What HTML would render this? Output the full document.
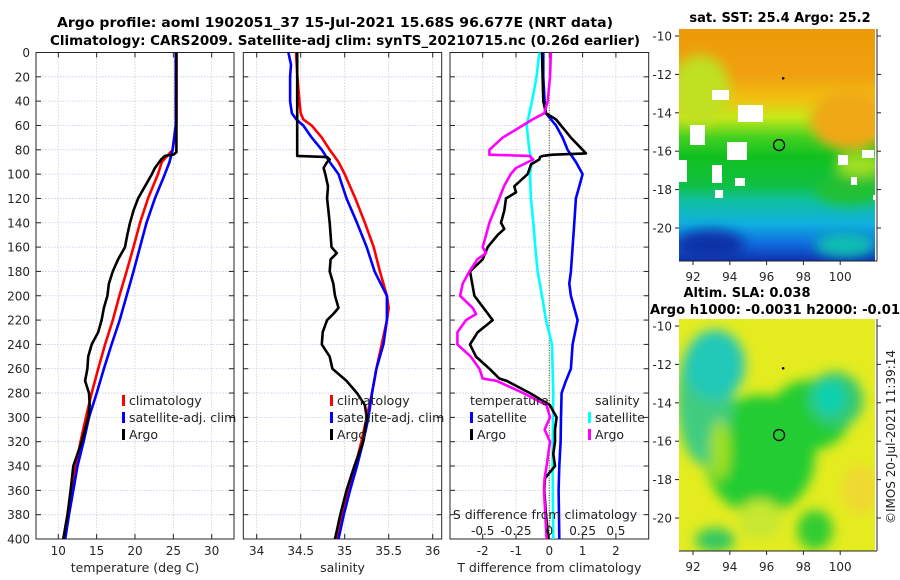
<!DOCTYPE html>
<html><head><meta charset="utf-8"><style>
body{margin:0;background:#fff;}
svg{display:block;font-family:"DejaVu Sans","Liberation Sans",sans-serif;}
</style></head><body>
<svg id="chart" width="900" height="580" viewBox="0 0 900 580" xmlns="http://www.w3.org/2000/svg">
<defs>
<filter id="blur" x="-20%" y="-20%" width="140%" height="140%"><feGaussianBlur stdDeviation="6"/></filter>
<clipPath id="mapclip1"><rect x="679" y="29" width="196" height="232"/></clipPath>
<clipPath id="mapclip2"><rect x="679" y="319" width="196" height="232"/></clipPath>
<linearGradient id="sstgrad" x1="0" y1="0" x2="0" y2="1">
<stop offset="0" stop-color="#ee9a08"/><stop offset="0.2" stop-color="#f0a010"/>
<stop offset="0.3" stop-color="#f2c010"/><stop offset="0.38" stop-color="#c8e818"/>
<stop offset="0.47" stop-color="#40d020"/><stop offset="0.55" stop-color="#10c020"/>
<stop offset="0.67" stop-color="#10c040"/><stop offset="0.74" stop-color="#10c0a0"/>
<stop offset="0.84" stop-color="#10b0e0"/><stop offset="0.92" stop-color="#1070e0"/>
<stop offset="1" stop-color="#1030b0"/></linearGradient>
</defs>
<g font-weight="bold" font-size="13" fill="#000">
<text x="57" y="27" textLength="556" lengthAdjust="spacingAndGlyphs">Argo profile: aoml 1902051_37 15-Jul-2021 15.68S 96.677E (NRT data)</text>
<text x="50" y="45" textLength="590" lengthAdjust="spacingAndGlyphs">Climatology: CARS2009. Satellite-adj clim: synTS_20210715.nc (0.26d earlier)</text>
</g>
<g id="panels"></g>
<g id="maps"></g>
</svg>
<script>
// ---------- data ----------
const tClimDepth=[0,60,80,90,100,120,140,160,180,200,220,240,260,280,300,320,340,360,380,400];
const tClimVal=[25.4,25.4,24.9,23.5,23.0,21.7,20.65,19.8,18.9,17.96,17.1,16.1,15.2,14.35,13.6,12.9,12.3,11.7,11.2,10.65];
const tSatDepth=[0,60,80,90,100,120,140,160,180,200,220,240,260,280,300,320,340,360,380,400];
const tSatVal=[25.3,25.3,24.9,24.5,23.9,22.6,21.5,20.65,19.8,18.9,18.0,16.95,15.95,15.0,14.0,13.3,12.5,11.95,11.4,10.9];
const tArgoDepth=[0,82,84,85,88,95,100,110,120,130,140,150,160,170,180,190,200,210,220,230,240,250,260,270,280,290,300,320,340,360,380,400];
const tArgoVal=[25.4,25.4,25.0,23.9,23.4,22.6,22.2,21.3,20.4,19.8,19.35,19.0,18.7,17.8,17.1,16.6,16.4,15.95,15.65,15.2,14.35,13.9,13.8,13.5,14.0,14.1,13.9,13.05,11.95,11.6,11.2,10.65];

const sClimDepth=[0,20,40,50,55,60,70,80,90,100,120,140,160,180,200,210,220,240,260,280,300,320,340,360,380,400];
const sClimVal=[34.447,34.462,34.485,34.5,34.53,34.625,34.74,34.83,34.93,35.0,35.12,35.23,35.33,35.40,35.48,35.5,35.48,35.42,35.36,35.31,35.25,35.19,35.12,35.04,34.97,34.90];
const sSatDepth=[0,10,20,40,50,55,60,70,80,90,100,120,140,160,180,200,220,240,260,280,300,320,340,360,380,400];
const sSatVal=[34.36,34.39,34.38,34.38,34.4,34.45,34.53,34.625,34.74,34.83,34.93,35.02,35.14,35.25,35.34,35.48,35.48,35.44,35.36,35.31,35.27,35.21,35.14,35.06,34.99,34.93];
const sArgoDepth=[0,85,86,88,90,95,100,110,120,140,160,165,170,180,190,200,210,215,220,230,240,250,260,270,280,290,300,320,340,360,380,400];
const sArgoVal=[34.46,34.46,34.8,34.83,34.8,34.76,34.78,34.81,34.8,34.83,34.85,34.91,34.84,34.83,34.87,34.89,34.93,34.87,34.8,34.75,34.74,34.83,34.86,35.02,35.14,35.23,35.25,35.21,35.11,35.02,34.95,34.89];

const dtSatDepth=[0,20,40,50,55,60,70,80,90,100,110,120,140,160,180,190,200,220,240,260,270,280,300,320,340,360,380,400];
const dtSatVal=[-0.18,-0.18,-0.14,-0.1,0.05,0.2,0.4,0.55,0.8,1.0,0.9,0.8,0.75,0.7,0.65,0.6,0.65,0.85,0.7,0.65,0.5,0.37,0.35,0.34,0.3,0.28,0.29,0.3];
const dtArgoDepth=[0,20,40,50,55,60,70,80,83,84,85,86,88,92,100,110,115,120,130,140,145,150,160,170,180,200,220,230,240,250,260,268,270,280,290,300,310,320,330,340,350,360,380,400];
const dtArgoVal=[-0.22,-0.2,-0.18,-0.1,0.2,0.35,0.65,1.0,1.1,0.1,-0.2,-0.28,-0.3,-0.55,-0.65,-1.05,-1.0,-1.3,-1.35,-1.45,-1.35,-1.55,-1.85,-2.0,-2.38,-2.25,-1.7,-2.15,-2.38,-2.2,-1.8,-1.5,-1.28,-0.58,0.02,0.22,0.17,0.17,0.12,0.17,-0.13,-0.15,-0.1,-0.03];
const dsSatDepth=[0,20,40,60,80,90,100,120,140,160,180,200,220,240,260,280,300,340,400];
const dsSatVal=[-0.075,-0.095,-0.13,-0.17,-0.15,-0.13,-0.145,-0.138,-0.12,-0.105,-0.088,-0.055,-0.025,0.02,0.025,0.03,0.028,0.025,0.03];
const dsArgoDepth=[0,20,40,50,55,60,70,80,84,85,88,90,95,100,110,120,140,160,165,170,180,190,200,210,215,220,230,240,250,260,268,270,280,290,300,310,320,340,350,360,380,400];
const dsArgoVal=[0.012,0.005,-0.012,-0.038,-0.125,-0.2,-0.35,-0.45,-0.45,-0.15,-0.12,-0.16,-0.25,-0.29,-0.34,-0.375,-0.45,-0.5,-0.475,-0.54,-0.6,-0.65,-0.67,-0.575,-0.55,-0.625,-0.69,-0.69,-0.59,-0.525,-0.5,-0.395,-0.195,-0.02,0.005,-0.035,0.005,-0.02,-0.035,-0.04,-0.03,-0.02];

const depthTicks=[0,20,40,60,80,100,120,140,160,180,200,220,240,260,280,300,320,340,360,380,400];
const tTicks=[10,15,20,25,30];
const sTicks=[34,34.5,35,35.5,36];
const dtTicks=[-2,-1,0,1,2];
const dsTicks=[-0.5,-0.25,0,0.25,0.5];
const dsTickLabels=["-0.5","-0.25","0","0.25","0.5"];

const lonTicks=[92,94,96,98,100];
const latTicks=[-10,-12,-14,-16,-18,-20];
const floatLon=96.677, floatLat=-15.68;

// ---------- scales ----------
const NS="http://www.w3.org/2000/svg";
const yTop=52.5, yBot=539;
const yD=d=>yTop+d*(yBot-yTop)/400;
const xT=v=>58.3+(v-10)*7.67;
const xS=v=>256.7+(v-34)*88;
const xDT=v=>549.3+v*33.3;
const xDS=v=>549.3+v*4*33.3;
const mapX=lon=>693+(lon-92)*18.4;
const mapY1=lat=>36+(-10-lat)*19.2;
const mapY2=lat=>326+(-10-lat)*19.2;

function mk(tag,attrs,parent,text){const e=document.createElementNS(NS,tag);for(const k in attrs)e.setAttribute(k,attrs[k]);if(text!==undefined)e.textContent=text;parent.appendChild(e);return e;}

const panels=document.getElementById('panels');
function panel(name,x0,x1,xs,ticks,labels,xlabel){
  const g=mk('g',{},panels);
  
  
  ticks.forEach(t=>{const l=mk('line',{x1:xs(t),x2:xs(t),y1:yTop,y2:yBot,stroke:'#e6c4bc','stroke-width':0.8,'stroke-dasharray':'1.5,1.5'},g);
    });
  depthTicks.forEach(d=>{const l=mk('line',{x1:x0,x2:x1,y1:yD(d),y2:yD(d),stroke:'#c4cae8','stroke-width':0.8,'stroke-dasharray':'1.5,1.5'},g);
    
    mk('line',{x1:x0,x2:x0+5,y1:yD(d),y2:yD(d),stroke:'#222'},g);
    mk('line',{x1:x1-5,x2:x1,y1:yD(d),y2:yD(d),stroke:'#222'},g);});
  ticks.forEach((t,i)=>{mk('line',{x1:xs(t),x2:xs(t),y1:yBot-5,y2:yBot,stroke:'#222'},g);mk('line',{x1:xs(t),x2:xs(t),y1:yTop,y2:yTop+5,stroke:'#222'},g);
    const tl=mk('text',{x:xs(t),y:555,'font-size':12,'text-anchor':'middle',fill:'#262626'},g,labels[i]);
    });
  const xl=mk('text',{x:(x0+x1)/2,y:572,'font-size':12.5,'text-anchor':'middle',fill:'#262626'},g,xlabel);
  
  const fr=mk('rect',{x:x0,y:yTop,width:x1-x0,height:yBot-yTop,fill:'none',stroke:'#262626','stroke-width':1},g);
  
  return g;
}
function line(g,name,depths,vals,xs,color,w){
  const p=mk('polyline',{points:depths.map((d,i)=>xs(vals[i]).toFixed(1)+','+yD(d).toFixed(1)).join(' '),fill:'none',stroke:color,'stroke-width':w||2.6,'stroke-linejoin':'round'},g);
  
}
function legend(g,x,y,items){items.forEach((it,i)=>{const e=mk('g',{},g);
  
  if(it.c) mk('rect',{x:x,y:y+i*17-10,width:3,height:11,fill:it.c},e);
  mk('text',{x:x+(it.c?7:0),y:y+i*17,'font-size':12.5,fill:'#222'},e,it.t);});}

// panel 1
const g1=panel('temperature-panel',36,234,xT,tTicks,tTicks.map(String),'temperature (deg C)');
depthTicks.forEach(d=>{const t=mk('text',{x:30,y:yD(d)+4.5,'font-size':12,'text-anchor':'end',fill:'#262626'},g1,String(d));
  });
line(g1,'temp-climatology-line',tClimDepth,tClimVal,xT,'#ff0000');
line(g1,'temp-satellite-line',tSatDepth,tSatVal,xT,'#0000ff');
line(g1,'temp-argo-line',tArgoDepth,tArgoVal,xT,'#000');
legend(g1,122,405,[{t:'climatology',c:'#ff0000'},{t:'satellite-adj. clim',c:'#0000ff'},{t:'Argo',c:'#000'}]);

// panel 2
const g2=panel('salinity-panel',243.3,441.7,xS,sTicks,['34','34.5','35','35.5','36'],'salinity');
line(g2,'sal-climatology-line',sClimDepth,sClimVal,xS,'#ff0000');
line(g2,'sal-satellite-line',sSatDepth,sSatVal,xS,'#0000ff');
line(g2,'sal-argo-line',sArgoDepth,sArgoVal,xS,'#000');
legend(g2,330,405,[{t:'climatology',c:'#ff0000'},{t:'satellite-adj. clim',c:'#0000ff'},{t:'Argo',c:'#000'}]);

// panel 3
const g3=panel('difference-panel',450,648.7,xDT,dtTicks,dtTicks.map(String),'T difference from climatology');
const zl=mk('line',{x1:xDT(0),x2:xDT(0),y1:yTop,y2:yBot,stroke:'#556b2f','stroke-width':1.2,'stroke-dasharray':'1,1.5'},g3);

line(g3,'sal-diff-satellite-line',dsSatDepth,dsSatVal,xDS,'#00ffff');
line(g3,'temp-diff-satellite-line',dtSatDepth,dtSatVal,xDT,'#0000ff');
line(g3,'temp-diff-argo-line',dtArgoDepth,dtArgoVal,xDT,'#000');
line(g3,'sal-diff-argo-line',dsArgoDepth,dsArgoVal,xDS,'#ff00ff');
legend(g3,470,405,[{t:'temperature'},{t:'satellite',c:'#0000ff'},{t:'Argo',c:'#000'}]);
mk('text',{x:595,y:405,'font-size':12.5,fill:'#222'},g3,'salinity');
legend(g3,588,422,[{t:'satellite',c:'#00ffff'},{t:'Argo',c:'#ff00ff'}]);
const st=mk('text',{x:545,y:519,'font-size':12.5,'text-anchor':'middle',fill:'#222'},g3,'S difference from climatology');

dsTicks.forEach((t,i)=>{const tl=mk('text',{x:xDS(t),y:535,'font-size':12,'text-anchor':'middle',fill:'#222'},g3,dsTickLabels[i]);
  });

// ---------- maps ----------
const maps=document.getElementById('maps');
function mapAxes(g,y0,ys){
  latTicks.forEach(l=>{mk('line',{x1:675,x2:679,y1:ys(l),y2:ys(l),stroke:'#222'},g);mk('line',{x1:877,x2:881,y1:ys(l),y2:ys(l),stroke:'#222'},g);
    const t=mk('text',{x:672,y:ys(l)+4.5,'font-size':12,'text-anchor':'end',fill:'#262626'},g,String(l));
    });
  lonTicks.forEach(l=>{mk('line',{x1:mapX(l),x2:mapX(l),y1:y0+232,y2:y0+236,stroke:'#222'},g);
    const t=mk('text',{x:mapX(l),y:y0+252,'font-size':12,'text-anchor':'middle',fill:'#262626'},g,String(l));
    });
  mk('line',{x1:679,x2:877,y1:y0+232,y2:y0+232,stroke:'#222'},g);
  mk('line',{x1:877,x2:877,y1:y0,y2:y0+232,stroke:'#222'},g);
  mk('circle',{cx:mapX(floatLon),cy:ys(floatLat),r:5.5,fill:'none',stroke:'#000','stroke-width':1.3},g);
  mk('circle',{cx:mapX(96.9),cy:ys(-12.2),r:1.3,fill:'#000'},g);
}
const m1=mk('g',{},maps);


const c1=mk('g',{'clip-path':'url(#mapclip1)'},m1);
mk('rect',{x:679,y:29,width:196,height:232,fill:'url(#sstgrad)'},c1);
const b1=mk('g',{filter:'url(#blur)'},c1);
mk('ellipse',{cx:850,cy:120,rx:40,ry:30,fill:'#f0a818'},b1);
mk('ellipse',{cx:700,cy:90,rx:30,ry:35,fill:'#c0e020'},b1);
mk('ellipse',{cx:860,cy:165,rx:25,ry:12,fill:'#a0e020'},b1);
mk('ellipse',{cx:850,cy:190,rx:35,ry:15,fill:'#20c030'},b1);
mk('ellipse',{cx:710,cy:245,rx:35,ry:15,fill:'#1030a8'},b1);
mk('ellipse',{cx:845,cy:245,rx:30,ry:12,fill:'#10c0b0'},b1);
[[712,90,17,10],[738,105,25,17],[690,125,15,20],[727,142,20,18],[679,160,8,22],[712,165,10,18],[715,190,8,8],[735,178,10,8],[862,150,12,8],[838,155,10,10],[851,177,6,8],[873,195,4,5]].forEach(r=>mk('rect',{x:r[0],y:r[1],width:r[2],height:r[3],fill:'#fff'},c1));
mk('text',{x:780,y:22,'font-size':13,'font-weight':'bold','text-anchor':'middle',fill:'#000'},m1,'sat. SST: 25.4 Argo: 25.2');
mapAxes(m1,29,mapY1);

const m2=mk('g',{},maps);


const c2=mk('g',{'clip-path':'url(#mapclip2)'},m2);
mk('rect',{x:679,y:319,width:196,height:232,fill:'#e4ec20'},c2);
const b2=mk('g',{filter:'url(#blur)'},c2);
mk('ellipse',{cx:760,cy:455,rx:55,ry:60,fill:'#22cc30'},b2);
mk('ellipse',{cx:810,cy:415,rx:40,ry:35,fill:'#22cc30'},b2);
mk('ellipse',{cx:705,cy:400,rx:28,ry:65,fill:'#40cc80'},b2);
mk('ellipse',{cx:715,cy:365,rx:30,ry:35,fill:'#20c8b8'},b2);
mk('ellipse',{cx:835,cy:400,rx:28,ry:28,fill:'#30c870'},b2);
mk('ellipse',{cx:830,cy:398,rx:16,ry:18,fill:'#10d0b0'},b2);
mk('ellipse',{cx:715,cy:540,rx:20,ry:12,fill:'#30c860'},b2);
mk('ellipse',{cx:760,cy:520,rx:22,ry:20,fill:'#c8e830'},b2);
mk('ellipse',{cx:815,cy:530,rx:18,ry:20,fill:'#30cc30'},b2);
mk('ellipse',{cx:720,cy:450,rx:10,ry:30,fill:'#a0e020'},b2);
mk('ellipse',{cx:860,cy:490,rx:18,ry:25,fill:'#f0d830'},b2);
mk('text',{x:747,y:297,'font-size':13,'font-weight':'bold','text-anchor':'middle',fill:'#000'},m2,'Altim. SLA: 0.038');
mk('text',{x:650,y:314,'font-size':13,'font-weight':'bold',fill:'#000',textLength:250,lengthAdjust:'spacingAndGlyphs'},m2,'Argo h1000: -0.0031 h2000: -0.01');
mapAxes(m2,319,mapY2);
const cp=mk('text',{x:0,y:0,'font-size':12,fill:'#222','text-anchor':'middle',transform:'translate(895,437) rotate(-90)'},maps,'©IMOS 20-Jul-2021 11:39:14');


</script>
</body></html>
